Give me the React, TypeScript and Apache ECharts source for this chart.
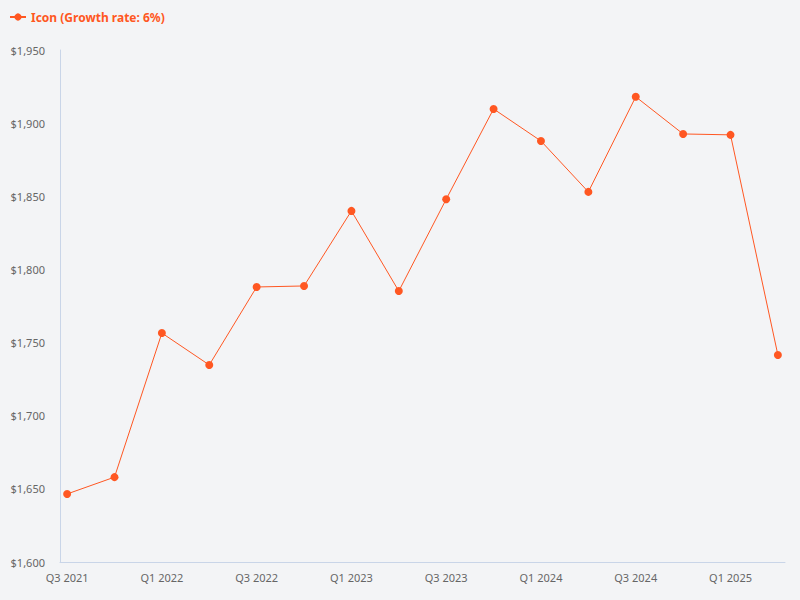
import React, { useEffect, useRef } from "react";
import * as echarts from "echarts";

const categories = [
  "Q3 2021", "Q4 2021", "Q1 2022", "Q2 2022", "Q3 2022", "Q4 2022",
  "Q1 2023", "Q2 2023", "Q3 2023", "Q4 2023", "Q1 2024", "Q2 2024",
  "Q3 2024", "Q4 2024", "Q1 2025", "Q2 2025",
];
const values = [
  1646.5, 1658, 1756.5, 1734.7, 1788, 1788.7, 1840, 1785.2,
  1848, 1909.7, 1887.8, 1853, 1918, 1892.6, 1892, 1741.5,
];
const labelIndices = [0, 2, 4, 6, 8, 10, 12, 14];
const seriesName = "Icon (Growth rate: 6%)";
const color = "#ff5722";

export default function App() {
  const ref = useRef<HTMLDivElement>(null);
  useEffect(() => {
    document.body.style.margin = "0";
    const chart = echarts.init(ref.current!, null, { renderer: "svg" });
    const axisLineColor = "#c9d5e8";
    chart.setOption({
      animation: false,
      backgroundColor: "#f3f4f6",
      textStyle: { fontFamily: "Noto Sans" },
      legend: {
        left: 4,
        top: 6,
        itemWidth: 16,
        itemHeight: 9,
        itemGap: 10,
        data: [seriesName],
        textStyle: { color: color, fontWeight: "bold", fontSize: 12, fontFamily: "Noto Sans" },
      },
      grid: { left: 60, right: 15, top: 50, bottom: 38, containLabel: false },
      xAxis: {
        type: "value",
        min: -0.15,
        max: 15.15,
        splitLine: { show: false },
        axisLine: { show: true, onZero: false, lineStyle: { color: axisLineColor } },
        axisTick: { show: false },
        axisLabel: {
          customValues: labelIndices,
          color: "#666",
          fontSize: 11,
          margin: 10,
          formatter: (v: number) => categories[Math.round(v)] ?? "",
        },
      },
      yAxis: {
        type: "value",
        min: 1600,
        max: 1950,
        interval: 50,
        splitLine: { show: false },
        axisLine: { show: true, onZero: false, lineStyle: { color: axisLineColor } },
        axisTick: { show: false },
        axisLabel: {
          color: "#666",
          fontSize: 11,
          margin: 15,
          formatter: (v: number) => "$" + v.toLocaleString("en-US"),
        },
      },
      series: [
        {
          name: seriesName,
          type: "line",
          data: values.map((v, i) => [i, v]),
          symbol: "circle",
          symbolSize: 8,
          itemStyle: { color },
          lineStyle: { color, width: 1 },
        },
      ],
    });
    return () => chart.dispose();
  }, []);
  return <div ref={ref} style={{ width: 800, height: 600 }} />;
}
